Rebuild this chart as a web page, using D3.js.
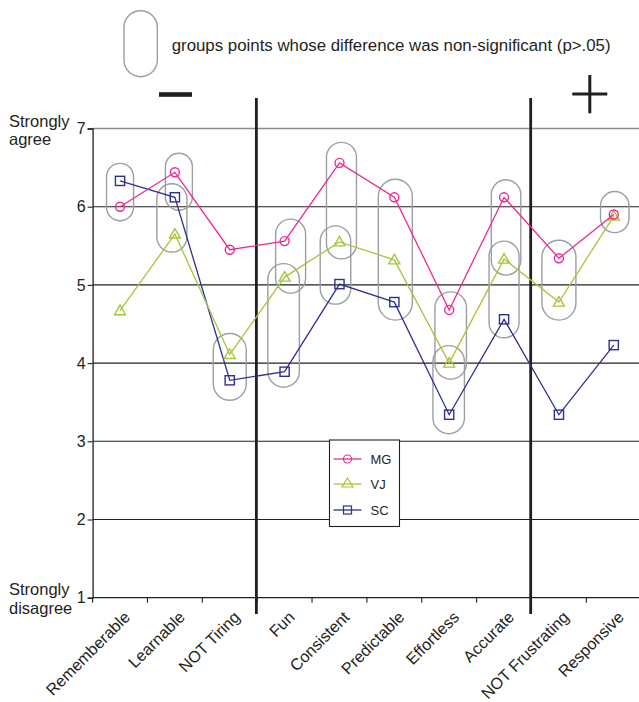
<!DOCTYPE html>
<html><head><meta charset="utf-8">
<script src="https://cdn.jsdelivr.net/npm/d3@7"></script>
<style>html,body{margin:0;padding:0;background:#fff;}svg{display:block;font-family:"Liberation Sans",Arial,sans-serif;}</style>
</head><body>
<svg id="chart" width="639" height="702"></svg>
<script>
// ---- data ----
const categories = ["Rememberable","Learnable","NOT Tiring","Fun","Consistent","Predictable","Effortless","Accurate","NOT Frustrating","Responsive"];
const seriesNames = ["MG","VJ","SC"];
const mgValues = [6.00,6.44,5.45,5.56,6.56,6.12,4.68,6.12,5.34,5.90];
const vjValues = [4.67,5.65,4.11,5.10,5.55,5.32,4.00,5.33,4.78,5.88];
const scValues = [6.33,6.12,3.78,3.89,5.01,4.78,3.34,4.56,3.34,4.23];
const yTicks = [1,2,3,4,5,6,7];
const dividerCats = ["Fun","NOT Frustrating"];
// non-significant groups (category, series grouped)
const groupCats = ["Rememberable","Learnable","Learnable","NOT Tiring","Fun","Fun","Consistent","Consistent","Predictable","Effortless","Effortless","Accurate","Accurate","NOT Frustrating","Responsive"];
const groupSeries = [["MG","SC"],["MG","SC"],["SC","VJ"],["VJ","SC"],["MG","VJ"],["VJ","SC"],["MG","VJ"],["VJ","SC"],["MG","VJ","SC"],["MG","VJ"],["VJ","SC"],["MG","VJ"],["VJ","SC"],["MG","VJ"],["MG","VJ"]];

// ---- layout / style (not data) ----
const capsuleDx = [0,4,-3,0,6,-1,2,-4,1,1.5,-0.5,2,0,0,1];
const capsuleW  = [27,27,30,33,30,31.5,30,30.5,34,31.5,31.5,29.5,30,34,28.5];
const capsulePadTop = [17.5,19,13.5,21,22,13.5,20.5,16,18,18,17.5,17.5,18,18,23];
const capsulePadBot = [14,13,18,20,16,15.5,17,20,18,16,19,16,18.5,18,16.5];
const colors = {MG:"#ec2a8e", VJ:"#a5c63b", SC:"#2e3190"};
const ink = "#231f20";
const capStroke = "#9a9fa5";

const values = {MG: mgValues, VJ: vjValues, SC: scValues};
const svg = d3.select("#chart");

const x = d3.scaleBand().domain(categories).range([92.6, 641.2]).padding(0);
const y = d3.scaleLinear().domain([1,7]).range([597.7, 128.5]);
const cx = c => x(c) + x.bandwidth()/2;

// gridlines
svg.append("g").selectAll("line").data(yTicks.filter(t => t > 1)).join("line")
  .attr("x1", x.range()[0]).attr("x2", 639)
  .attr("y1", d => y(d)).attr("y2", d => y(d))
  .attr("stroke", d => d === 7 ? "#8c8c8c" : ink)
  .attr("stroke-width", d => d === 7 ? 1.6 : 1.1);

// left axis
const yAxis = d3.axisLeft(y).tickValues(yTicks).tickSize(5).tickPadding(2).tickFormat(d3.format("d"));
const gy = svg.append("g").attr("transform", `translate(${x.range()[0]},0)`).call(yAxis);
gy.select(".domain").attr("stroke", ink).attr("stroke-width", 1.3);
gy.selectAll(".tick line").attr("stroke", ink).attr("stroke-width", 1.1);
gy.selectAll(".tick text").attr("font-size", 16).attr("fill", ink).attr("font-family", "Liberation Sans, Arial, sans-serif");

// bottom axis line + ticks at category boundaries
svg.append("line").attr("x1", x.range()[0]).attr("x2", 639).attr("y1", y(1)).attr("y2", y(1))
  .attr("stroke", ink).attr("stroke-width", 1.3);
svg.append("g").selectAll("line").data(categories).join("line")
  .attr("x1", d => x(d)).attr("x2", d => x(d))
  .attr("y1", y(1)).attr("y2", y(1) + 5)
  .attr("stroke", ink).attr("stroke-width", 1.1);

// x labels
svg.append("g").selectAll("text").data(categories).join("text")
  .attr("transform", d => `translate(${cx(d) + 11},${y(1) + 20.5}) rotate(-45)`)
  .attr("text-anchor", "end")
  .attr("font-size", 16.2).attr("fill", ink)
  .text(d => d);

// y titles
const yt = svg.append("g").attr("font-size", 16.5).attr("fill", ink);
yt.append("text").attr("x", 9).attr("y", 127).text("Strongly");
yt.append("text").attr("x", 9).attr("y", 145).text("agree");
yt.append("text").attr("x", 9).attr("y", 595).text("Strongly");
yt.append("text").attr("x", 9).attr("y", 614).text("disagree");

// dividers
svg.append("g").selectAll("line").data(dividerCats).join("line")
  .attr("x1", d => x(d) - 0.8).attr("x2", d => x(d) - 0.8)
  .attr("y1", 98).attr("y2", 614)
  .attr("stroke", ink).attr("stroke-width", 2.8);

// capsules
const caps = groupCats.map((c, i) => {
  const vs = groupSeries[i].map(s => values[s][categories.indexOf(c)]);
  const top = y(d3.max(vs)) - capsulePadTop[i];
  const bot = y(d3.min(vs)) + capsulePadBot[i];
  return {x: cx(c) + capsuleDx[i] - capsuleW[i]/2, w: capsuleW[i], y: top, h: bot - top};
});
svg.append("g").selectAll("rect").data(caps).join("rect")
  .attr("x", d => d.x).attr("y", d => d.y).attr("width", d => d.w).attr("height", d => d.h)
  .attr("rx", d => d.w/2).attr("ry", d => d.w/2)
  .attr("fill", "none").attr("stroke", capStroke).attr("stroke-width", 1.4);

// markers
function drawMarker(g, s, px, py) {
  if (s === "MG") g.append("circle").attr("cx", px).attr("cy", py).attr("r", 4.5);
  else if (s === "VJ") g.append("path").attr("d", `M${px},${py-5.5}L${px+5.5},${py+4}L${px-5.5},${py+4}Z`);
  else g.append("rect").attr("x", px-4.6).attr("y", py-4.6).attr("width", 9.2).attr("height", 9.2);
}
const line = d3.line().x(d => cx(d.c)).y(d => y(d.v));
seriesNames.slice().reverse().forEach(s => {
  const pts = categories.map((c, i) => ({c, v: values[s][i]}));
  svg.append("path").datum(pts).attr("d", line).attr("fill", "none")
    .attr("stroke", colors[s]).attr("stroke-width", 1.3);
  const g = svg.append("g").attr("fill", "none").attr("stroke", colors[s]).attr("stroke-width", 1.4);
  pts.forEach(p => drawMarker(g, s, cx(p.c), y(p.v)));
});

// legend
const lg = svg.append("g");
lg.append("rect").attr("x", 329.5).attr("y", 440).attr("width", 70).attr("height", 86.5)
  .attr("fill", "#fff").attr("stroke", ink).attr("stroke-width", 1.1);
[459, 484, 510].forEach((ly, i) => {
  const s = seriesNames[i];
  lg.append("line").attr("x1", 333.5).attr("x2", 361.5).attr("y1", ly).attr("y2", ly)
    .attr("stroke", colors[s]).attr("stroke-width", 1.3);
  const g = lg.append("g").attr("fill", "none").attr("stroke", colors[s]).attr("stroke-width", 1.2);
  if (s === "MG") g.append("circle").attr("cx", 347.5).attr("cy", ly).attr("r", 4);
  else if (s === "VJ") g.append("path").attr("d", `M347.5,${ly-6}L353,${ly+3}L342,${ly+3}Z`);
  else g.append("rect").attr("x", 343.5).attr("y", ly-4).attr("width", 8).attr("height", 8);
  lg.append("text").attr("x", 370.5).attr("y", ly + 4.7).attr("font-size", 13).attr("fill", ink).text(s);
});

// top note
svg.append("rect").attr("x", 124).attr("y", 10.7).attr("width", 33.3).attr("height", 66)
  .attr("rx", 16.6).attr("ry", 16.6).attr("fill", "none").attr("stroke", capStroke).attr("stroke-width", 1.4);
const note = svg.append("text").attr("x", 171.7).attr("y", 50.5).attr("font-size", 14).attr("fill", ink)
  .text("groups points whose difference was non-significant (p>.05)");
const w = note.node().getComputedTextLength();
note.attr("font-size", 14 * 439 / w);

// minus / plus
svg.append("rect").attr("x", 159).attr("y", 92.2).attr("width", 33).attr("height", 4.6).attr("fill", ink);
svg.append("line").attr("x1", 572.3).attr("x2", 607.3).attr("y1", 94).attr("y2", 94).attr("stroke", ink).attr("stroke-width", 3);
svg.append("line").attr("x1", 589.8).attr("x2", 589.8).attr("y1", 75).attr("y2", 113.3).attr("stroke", ink).attr("stroke-width", 3);
</script>
</body></html>
